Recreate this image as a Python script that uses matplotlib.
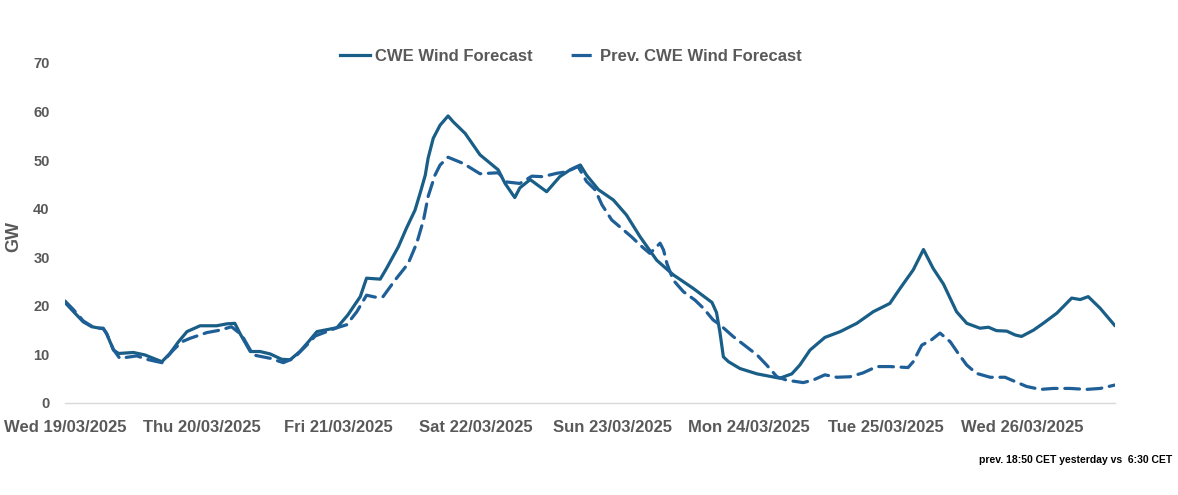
import matplotlib
matplotlib.use("Agg")
import matplotlib.pyplot as plt
from matplotlib.lines import Line2D

# ---- data (hours since Wed 19/03/2025 00:00, GW) ----
cur_t = [0, 1.5, 3.2, 4.7, 6.1, 6.7, 7.3, 8.5, 9.4, 12.0, 14.0, 15.5, 17.0, 18.4, 19.9, 21.4,
         23.7, 26.6, 28.4, 29.8, 30.7, 32.5, 34.2, 36.0, 38.0, 39.5, 41.2, 42.7, 44.2, 47.7,
         49.6, 51.8, 52.9, 55.3, 56.4, 58.5, 59.9, 61.4, 62.3, 63.2, 63.7, 64.6, 65.8, 67.2,
         68.1, 70.2, 72.8, 76.0, 77.2, 78.9, 79.8, 81.6, 84.5, 86.8, 88.6, 90.4, 91.5, 93.6,
         96.2, 98.5, 100.9, 103.8, 106.7, 110.2, 113.5, 114.3, 114.9, 115.5, 116.4, 118.4,
         121.4, 125.4, 127.5, 128.9, 130.7, 133.3, 136.0, 138.9, 141.8, 144.7, 146.5, 148.8,
         150.6, 152.3, 154.1, 156.4, 158.2, 160.5, 162.0, 163.4, 165.2, 166.7, 167.8, 169.9,
         171.6, 174.0, 176.6, 178.1, 179.5, 181.6, 184.2]
cur_v = [20.7, 18.8, 16.7, 15.7, 15.4, 15.4, 14.3, 10.9, 10.2, 10.4, 9.9, 9.2, 8.5, 10.2, 12.6, 14.7,
         15.9, 15.9, 16.3, 16.4, 14.3, 10.6, 10.6, 10.1, 9.0, 8.9, 10.6, 12.6, 14.7, 15.5,
         18.1, 21.9, 25.7, 25.5, 27.7, 32.2, 36.0, 39.7, 43.2, 46.9, 50.4, 54.5, 57.2, 59.1,
         57.9, 55.5, 51.1, 48.0, 45.2, 42.3, 44.3, 46.0, 43.5, 46.6, 48.0, 49.0, 46.9, 43.9,
         41.8, 38.7, 34.2, 29.4, 26.4, 23.6, 20.7, 18.6, 14.5, 9.5, 8.5, 7.1,
         6.0, 5.1, 6.0, 7.8, 10.9, 13.5, 14.7, 16.4, 18.8, 20.5, 23.6, 27.4,
         31.6, 27.7, 24.5, 18.8, 16.4, 15.4, 15.6, 14.9, 14.8, 14.0, 13.7, 15.0,
         16.4, 18.5, 21.6, 21.3, 21.9, 19.5, 15.9]

prev_t = [0, 1.5, 3.2, 4.7, 6.1, 6.7, 7.3, 8.5, 9.6, 12.6, 14.3, 17.0, 19.0, 20.5, 21.9, 24.9,
          27.2, 29.2, 31.0, 33.0, 36.0, 38.3, 40.1, 42.4, 43.9, 47.7, 49.4, 51.2, 52.9, 54.4,
          55.8, 57.9, 60.2, 61.7, 62.9, 63.7, 64.9, 65.8, 67.2, 69.9, 72.8, 76.0, 77.5, 79.8,
          81.9, 83.8, 86.3, 88.0, 90.0, 91.5, 93.0, 94.2, 95.9, 97.4, 99.4, 100.9, 102.6,
          104.4, 105.0, 105.6, 106.7, 108.5, 110.5, 112.0, 113.7, 114.9, 117.2, 121.4, 123.1,
          124.9, 126.6, 129.5, 131.2, 133.3, 135.4, 137.7, 140.0, 142.4, 144.7, 147.9, 148.8,
          150.3, 152.0, 153.5, 155.3, 156.7, 158.2, 159.9, 162.3, 164.9, 166.7, 168.7, 171.1,
          173.4, 176.3, 179.2, 181.6, 184.2]
prev_v = [21.0, 19.2, 16.9, 15.8, 15.4, 15.3, 14.3, 11.0, 9.2, 9.7, 9.0, 8.3, 10.9, 12.6, 13.3, 14.5,
          15.0, 15.7, 14.0, 9.9, 9.2, 8.3, 9.2, 11.9, 13.8, 15.5, 16.1, 18.8, 22.2, 21.8,
          21.9, 25.3, 28.7, 32.9, 37.7, 42.5, 46.9, 49.0, 50.6, 49.3, 47.2, 47.4, 45.5, 45.2,
          46.7, 46.6, 47.3, 47.6, 48.7, 45.6, 43.9, 40.8, 37.7, 36.2, 34.2, 32.5, 30.8,
          32.9, 31.5, 28.7, 25.3, 22.9, 21.2, 19.5, 17.1, 16.1, 13.7, 9.9, 7.8,
          5.4, 4.7, 4.2, 4.7, 5.8, 5.3, 5.4, 6.2, 7.5, 7.5, 7.3, 8.5,
          11.9, 13.0, 14.4, 12.6, 10.2, 7.8, 6.1, 5.3, 5.3, 4.4, 3.4, 2.8,
          3.0, 3.0, 2.8, 3.0, 3.7]

day_labels = ["Wed 19/03/2025", "Thu 20/03/2025", "Fri 21/03/2025", "Sat 22/03/2025",
              "Sun 23/03/2025", "Mon 24/03/2025", "Tue 25/03/2025", "Wed 26/03/2025"]
y_ticks = [0, 10, 20, 30, 40, 50, 60, 70]

plt.rcParams['font.family'] = ['Liberation Sans', 'DejaVu Sans']
GRAY = "#595959"
C_CUR = "#195e86"
C_PREV = "#1f5f98"
LW = 2.3

fig = plt.figure(figsize=(11.78, 4.95), dpi=100)
ax = fig.add_axes([65/1178, 1 - 403/495, (1115-65)/1178, (403-63)/495])

ax.plot(cur_t, cur_v, color=C_CUR, lw=LW, solid_joinstyle='round', solid_capstyle='round')
ax.plot(prev_t, prev_v, color=C_PREV, lw=LW, dashes=(4.6, 2.4), dash_capstyle='round')

ax.set_xlim(0, 184.2)
ax.set_ylim(0, 70)
ax.set_yticks(y_ticks)
ax.set_yticklabels([str(v) for v in y_ticks], fontsize=10.5, fontweight='bold', color=GRAY)
ax.set_xticks([24 * i for i in range(len(day_labels))])
ax.set_xticklabels(day_labels, fontsize=12, fontweight='bold', color=GRAY)
ax.tick_params(axis='both', length=0)
ax.tick_params(axis='y', pad=11)
ax.tick_params(axis='x', pad=12)

for s in ['top', 'right', 'left']:
    ax.spines[s].set_visible(False)
ax.spines['bottom'].set_color('#d9d9d9')
ax.spines['bottom'].set_linewidth(1.0)

fig.text(14/1178, 1 - 237/495, "GW", rotation=90, ha='center', va='center',
         fontsize=13, fontweight='bold', color=GRAY)

handles = [Line2D([], [], color=C_CUR, lw=LW),
           Line2D([], [], color=C_PREV, lw=LW, linestyle=(7.8, (6.3, 3.1)))]
fig.legend(handles, ["CWE Wind Forecast", "Prev. CWE Wind Forecast"],
           loc='center', bbox_to_anchor=(571/1178, 1 - 56/495), ncol=2, frameon=False,
           prop={'size': 12, 'weight': 'bold'}, labelcolor=GRAY,
           handlelength=1.8, handletextpad=0.25, columnspacing=2.0)

fig.text(1172/1178, 1 - 460/495, "prev. 18:50 CET yesterday vs  6:30 CET",
         ha='right', va='center', fontsize=7.5, fontweight='bold', color='black')

fig.savefig("out.png", dpi=100)
